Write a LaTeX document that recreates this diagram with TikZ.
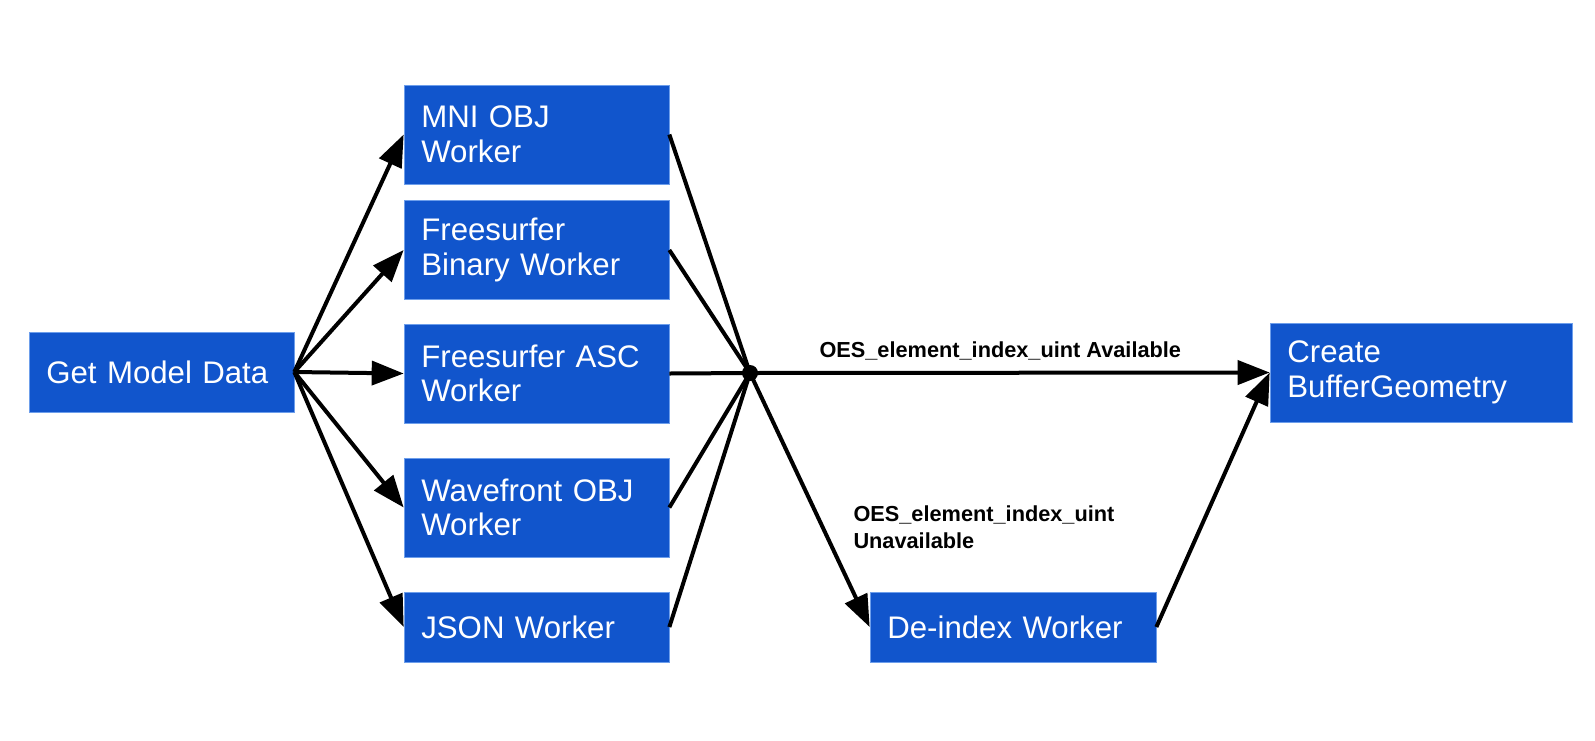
\documentclass[tikz,border=0pt]{standalone}
\usepackage{fontspec}
\setmainfont{Liberation Sans}
\usetikzlibrary{arrows.meta}

\definecolor{boxblue}{HTML}{1155CC}
\definecolor{boxedge}{HTML}{6D9EEB}

\tikzset{every picture/.style={line width=0.75pt}}

\begin{document}
\begin{tikzpicture}[x=0.75pt,y=0.75pt,yscale=-1,xscale=1,
  box/.style={fill=boxblue, draw=boxedge, line width=0.5pt, text=white, align=left,
    inner xsep=13pt, inner ysep=0pt, font=\fontsize{23.4}{26}\selectfont},
  worker/.style={box, text width=172.75pt, minimum height=74.25pt},
  flow/.style={line width=3pt, -{Triangle[length=24pt,width=18pt]}},
  link/.style={line width=3pt},
  lbl/.style={inner sep=0pt, align=left, font=\fontsize{16.3}{20.25}\selectfont\bfseries}]
    \useasboundingbox (0,0) rectangle (1595,740);
    %Shape: Rectangle [id:getdata]
    \draw (161.5,372) node (getdata) [box, text width=172.75pt, minimum height=60pt] {Get Model Data};
    %Shape: Rectangle [id:mni]
    \draw (536.5,134.5) node (mni) [worker] {MNI OBJ\\Worker};
    %Shape: Rectangle [id:fsbin]
    \draw (536.5,250) node (fsbin) [worker] {Freesurfer\\Binary Worker};
    %Shape: Rectangle [id:fsasc]
    \draw (536.5,373.5) node (fsasc) [worker] {Freesurfer ASC\\Worker};
    %Shape: Rectangle [id:wavefront]
    \draw (536.5,507.5) node (wavefront) [worker] {Wavefront OBJ\\Worker};
    %Shape: Rectangle [id:json]
    \draw (536.5,627) node (json) [worker, minimum height=52.5pt] {JSON Worker};
    %Shape: Rectangle [id:deindex]
    \draw (1013,627) node (deindex) [box, text width=188.5pt, minimum height=52.5pt] {De-index Worker};
    %Shape: Rectangle [id:create]
    \draw (1421,372.5) node (create) [box, text width=200.5pt, minimum height=74.25pt] {Create\\BufferGeometry};
    %Shape: Circle [id:hub]
    \coordinate (hub) at (750,373);
    \fill (hub) circle (8);
    %Straight Lines [id:fan out]
    \draw [flow] (getdata.east) -- (mni.west);
    \draw [flow] (getdata.east) -- (fsbin.west);
    \draw [flow] (getdata.east) -- (fsasc.west);
    \draw [flow] (getdata.east) -- (wavefront.west);
    \draw [flow] (getdata.east) -- (json.west);
    %Straight Lines [id:fan in]
    \draw [link] (mni.east) -- (hub);
    \draw [link] (fsbin.east) -- (hub);
    \draw [link] (fsasc.east) -- (hub);
    \draw [link] (wavefront.east) -- (hub);
    \draw [link] (json.east) -- (hub);
    %Straight Lines [id:branches]
    \draw [flow] (hub) -- (create.west);
    \draw [flow] (hub) -- (deindex.west);
    \draw [flow] (deindex.east) -- (create.west);
    % Text Node
    \draw (819,357) node (available) [lbl, anchor=base west] {OES\_element\_index\_uint Available};
    % Text Node
    \draw (853,505) node (unavailable) [lbl, anchor=north west] {OES\_element\_index\_uint\\Unavailable};
\end{tikzpicture}
\end{document}
